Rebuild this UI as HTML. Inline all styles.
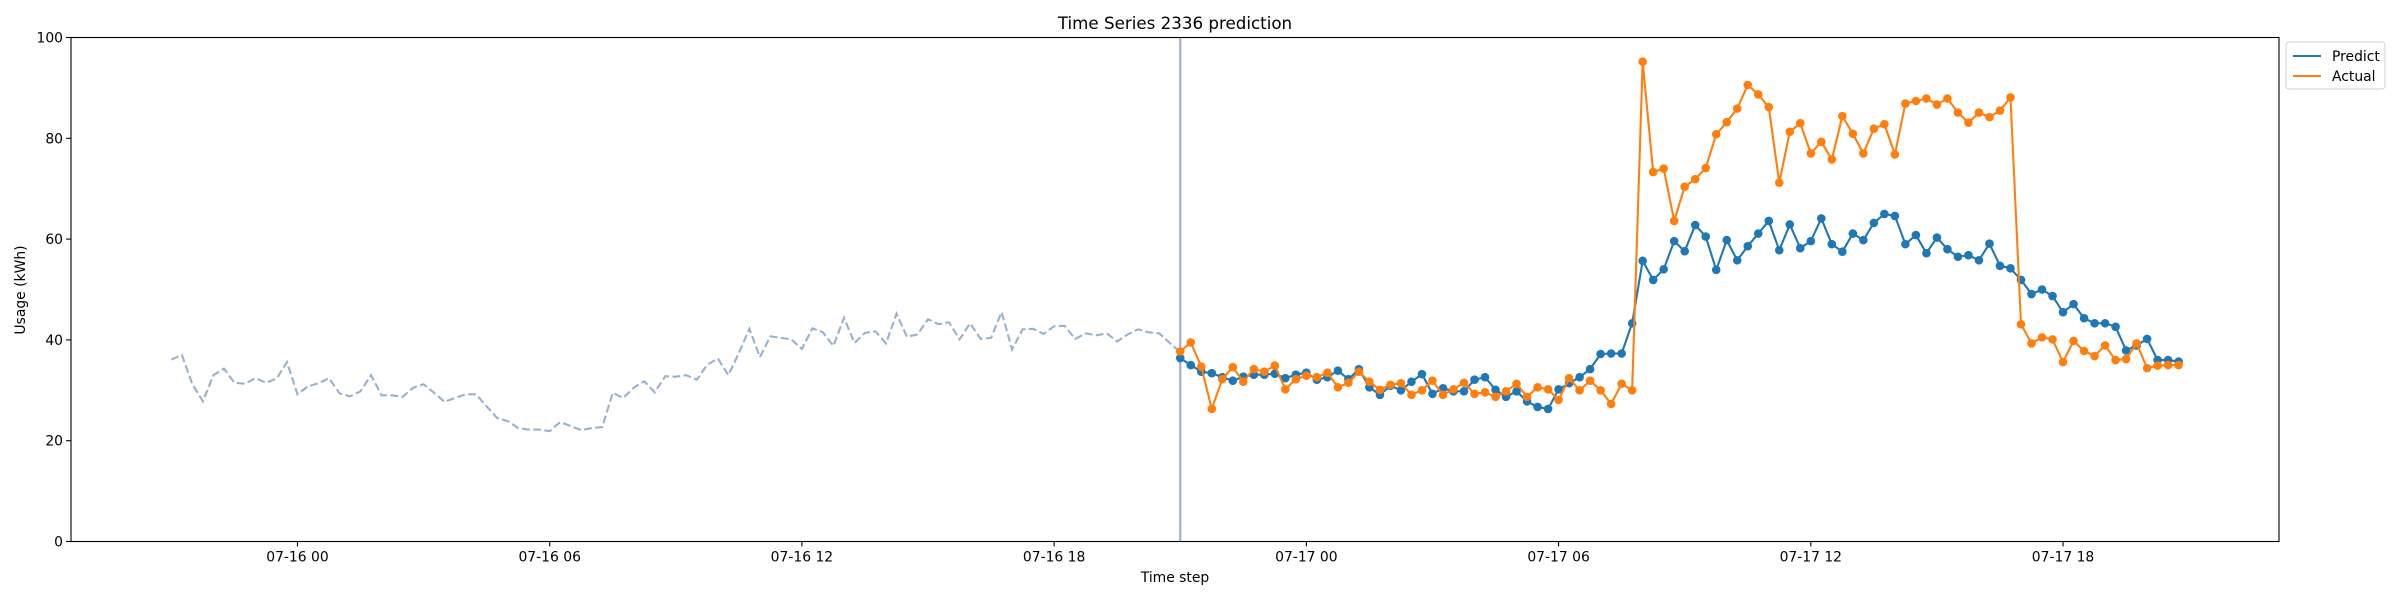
<!DOCTYPE html>
<html><head><meta charset="utf-8"><title>Time Series 2336 prediction</title>
<style>
html,body{margin:0;padding:0;background:#fff;}
svg{display:block;font-family:"DejaVu Sans","Liberation Sans",sans-serif;}
</style></head>
<body>
<svg id="chart" width="2400" height="600" viewBox="0 0 2400 600" xmlns="http://www.w3.org/2000/svg">
<rect width="2400" height="600" fill="#fff"/>
<text x="1175" y="29" font-size="16.7" text-anchor="middle" fill="#000">Time Series 2336 prediction</text>
<g id="plot"></g>
<text x="1175" y="582" font-size="13.9" text-anchor="middle" fill="#000">Time step</text>
<text x="0" y="0" font-size="13.9" text-anchor="middle" fill="#000" transform="translate(25,290) rotate(-90)">Usage (kWh)</text>
<g>
  <rect x="2286" y="42" width="99" height="47" rx="3" fill="#fff" stroke="#d0d0d0" stroke-width="1"/>
  <g>
    <line x1="2293" y1="56" x2="2321" y2="56" stroke="#1f77b4" stroke-width="2.1"/>
    <text x="2332" y="61" font-size="13.9" fill="#000">Predict</text>
  </g>
  <g>
    <line x1="2293" y1="76" x2="2321" y2="76" stroke="#ff7f0e" stroke-width="2.1"/>
    <text x="2332" y="81" font-size="13.9" fill="#000">Actual</text>
  </g>
</g>
</svg>
<script>
// ---- data ----
const historyValues = [36.1,37.0,31.2,27.8,33.0,34.3,31.5,31.3,32.4,31.5,32.3,35.6,29.2,30.8,31.4,32.4,29.4,28.8,29.8,33.0,29.0,29.0,28.7,30.5,31.2,29.5,27.7,28.5,29.2,29.2,26.8,24.5,23.9,22.5,22.2,22.2,21.9,23.7,22.9,22.1,22.5,22.7,29.5,28.5,30.5,31.8,29.6,32.8,32.7,33.0,32.1,35.1,36.3,33.0,37.4,42.2,36.6,40.7,40.4,40.1,38.2,42.3,41.5,38.8,44.4,39.4,41.4,41.7,39.3,45.2,40.6,41.1,44.1,43.1,43.5,40.1,43.3,40.2,40.4,45.5,38.1,42.1,42.2,41.2,42.7,42.8,40.2,41.3,40.9,41.3,39.7,41.1,42.1,41.5,41.3,39.4,37.6];
const predictValues = [36.4,35.0,33.7,33.4,32.6,31.9,32.7,33.1,33.1,33.3,32.4,33.1,33.5,32.1,32.6,33.9,32.2,34.2,30.6,29.1,30.9,30.0,31.7,33.2,29.3,30.4,29.8,29.8,32.1,32.6,30.1,28.7,29.8,27.8,26.7,26.3,30.2,31.4,32.6,34.2,37.2,37.3,37.3,43.3,55.7,51.9,54.0,59.6,57.6,62.8,60.5,53.9,59.8,55.8,58.6,61.1,63.6,57.8,62.9,58.2,59.6,64.1,59.0,57.5,61.1,59.8,63.2,65.0,64.6,59.0,60.8,57.2,60.3,58.0,56.5,56.8,55.8,59.1,54.7,54.2,51.9,49.1,50.0,48.7,45.5,47.1,44.3,43.3,43.3,42.6,37.9,38.9,40.2,36.0,36.0,35.7];
const actualValues = [37.7,39.5,34.7,26.3,32.2,34.6,31.7,34.2,33.7,34.9,30.2,32.2,32.9,32.6,33.5,30.6,31.5,33.7,31.7,30.1,31.1,31.4,29.1,30.0,31.9,29.1,30.2,31.5,29.3,29.6,28.7,29.8,31.3,28.7,30.6,30.2,28.1,32.4,30.0,31.9,30.0,27.3,31.3,30.0,95.2,73.3,74.0,63.6,70.4,71.9,74.1,80.8,83.2,85.9,90.6,88.7,86.2,71.2,81.3,83.0,77.0,79.3,75.8,84.4,80.9,77.0,81.9,82.8,76.8,86.9,87.4,87.9,86.7,87.9,85.1,83.1,85.1,84.2,85.5,88.1,43.1,39.3,40.5,40.1,35.6,39.8,37.8,36.8,38.9,36.0,36.2,39.3,34.4,34.9,35.0,35.0];
const historyStartHour = -3;     // 07-15 21:00 relative to 07-16 00:00
const forecastStartHour = 21;    // 07-16 21:00
const stepHours = 0.25;
const xTickHours = [0,6,12,18,24,30,36,42];
const xTickLabels = ["07-16 00","07-16 06","07-16 12","07-16 18","07-17 00","07-17 06","07-17 12","07-17 18"];
const yTickValues = [0,20,40,60,80,100];

// ---- axes ----
const L=71, R=2279, T=37.5, B=541.5;
const tMin = historyStartHour, tMax = forecastStartHour + (predictValues.length-1)*stepHours;
const pad = (tMax - tMin)*0.05;
const x0 = tMin - pad, x1 = tMax + pad;
function xs(t){ return L + (t - x0)/(x1 - x0)*(R-L); }
function ys(v){ return B - v/100*(B-T); }

const NS="http://www.w3.org/2000/svg";
const plot=document.getElementById('plot');
function mk(tag, attrs, parent){ const e=document.createElementNS(NS,tag); for(const k in attrs) e.setAttribute(k,attrs[k]); (parent||plot).appendChild(e); return e; }

// history dashed line
let hp = historyValues.map((v,i)=>xs(historyStartHour+i*stepHours).toFixed(2)+","+ys(v).toFixed(2)).join(" ");
const hl = mk('polyline',{points:hp,fill:'none',stroke:'#9ab0cc','stroke-width':2.1,'stroke-dasharray':'7.8,3.4'});



// forecast start vertical line
const vx = xs(forecastStartHour);
const vl = mk('line',{x1:vx,y1:T,x2:vx,y2:B,stroke:'#a2abd2','stroke-width':2.1});



function series(vals, color, name){
  const g = mk('g',{});
  
  
  const pts = vals.map((v,i)=>xs(forecastStartHour+i*stepHours).toFixed(2)+","+ys(v).toFixed(2)).join(" ");
  const pl = mk('polyline',{points:pts,fill:'none',stroke:color,'stroke-width':2.1,'stroke-linejoin':'round'},g);
  
  
  vals.forEach((v,i)=>{
    const c = mk('circle',{cx:xs(forecastStartHour+i*stepHours),cy:ys(v),r:4.3,fill:color},g);
    
    
  });
}
series(predictValues,'#1f77b4','predict');
series(actualValues,'#ff7f0e','actual');

// axes frame
const fr = mk('rect',{x:L,y:T,width:R-L,height:B-T,fill:'none',stroke:'#000','stroke-width':1.1});



// x ticks
xTickHours.forEach((h,i)=>{
  const x=xs(h);
  const tk = mk('line',{x1:x,y1:B,x2:x,y2:B+4.9,stroke:'#000','stroke-width':1.1});
  
  
  const tx = mk('text',{x:x,y:B+20,'font-size':13.9,'text-anchor':'middle',fill:'#000'});
  tx.textContent = xTickLabels[i];
  
  
});
// y ticks
yTickValues.forEach(v=>{
  const y=ys(v);
  const tk = mk('line',{x1:L-4.9,y1:y,x2:L,y2:y,stroke:'#000','stroke-width':1.1});
  
  
  const tx = mk('text',{x:L-8,y:y+5,'font-size':13.9,'text-anchor':'end',fill:'#000'});
  tx.textContent = String(v);
  
  
});
</script>
</body></html>
